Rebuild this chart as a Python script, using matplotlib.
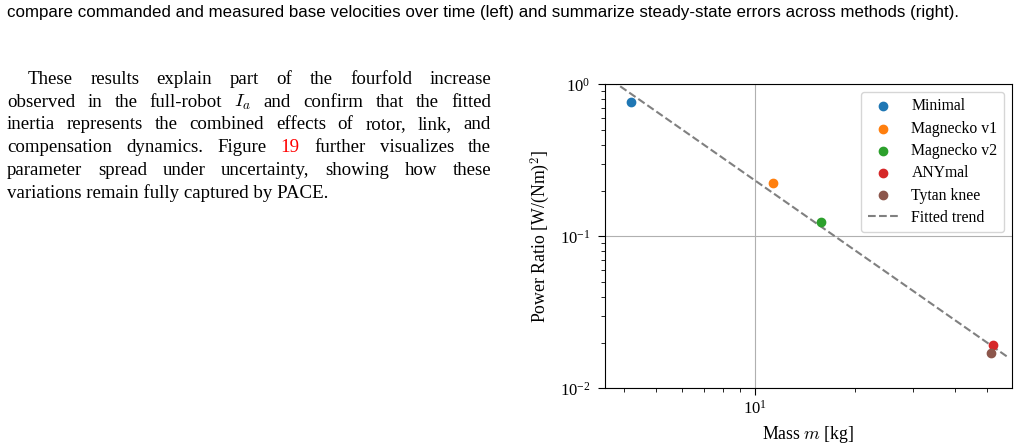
import numpy as np
from matplotlib import pyplot as plt

# === 数据 ===
robots = ["Minimal", "Magnecko v1", "Magnecko v2", "ANYmal", "Tytan knee"]
mass = [4.21, 11.28, 15.78, 52.2, 51.6]
power_ratio = [0.765, 0.2236, 0.1243, 0.01915, 0.01706]
colors = ["tab:blue", "tab:orange", "tab:green", "tab:red", "tab:brown"]

caption = ("compare commanded and measured base velocities over time (left) "
           "and summarize steady-state errors across methods (right).")
para_lines = [
    "These results explain part of the fourfold increase",
    "observed in the full-robot $I_a$ and confirm that the fitted",
    "inertia represents the combined effects of rotor, link, and",
    "compensation dynamics. Figure 19 further visualizes the",
    "parameter spread under uncertainty, showing how these",
    "variations remain fully captured by PACE.",
]
red_words = {"19"}

W, H = 1019, 447
plt.rcParams["font.family"] = ["Liberation Serif", "DejaVu Serif"]
plt.rcParams["mathtext.fontset"] = "cm"


def px(x, y):
    """像素坐标 -> figure 坐标"""
    return x / W, 1 - y / H


fig = plt.figure(figsize=(W / 100, H / 100), dpi=100)
renderer = fig.canvas.get_renderer()

# === 顶部图注 ===
t = fig.text(*px(7, 17), caption, family=["Liberation Sans", "DejaVu Sans"],
             fontsize=10, va="baseline", ha="left")
w = t.get_window_extent(renderer).width
t.set_fontsize(10 * (956 - 7) / w)

# === 左侧两端对齐的正文 ===
body_size = 13.6
left, right = 7, 491
for i, line in enumerate(para_lines):
    y = 84 + i * 22.7
    x0 = 28 if i == 0 else left
    if i == len(para_lines) - 1:
        fig.text(*px(x0, y), line, fontsize=body_size, va="baseline")
        continue
    words = line.split(" ")
    texts = [fig.text(0, 0, wd, fontsize=body_size, va="baseline",
                      color="red" if wd in red_words else "black")
             for wd in words]
    widths = [tx.get_window_extent(renderer).width for tx in texts]
    gap = (right - x0 - sum(widths)) / (len(words) - 1)
    x = x0
    for tx, wd in zip(texts, widths):
        tx.set_position(px(x, y))
        x += wd + gap

# === 右侧散点图 ===
ax = fig.add_axes([605 / W, 1 - 388.3 / H, (1011.7 - 605) / W, (388.3 - 84.3) / H])
for name, m, p, c in zip(robots, mass, power_ratio, colors):
    ax.scatter(m, p, color=c, s=36, label=name, zorder=3)

k, b = np.polyfit(np.log10(mass), np.log10(power_ratio), 1)
fit_x = np.array([min(mass) * 0.87, max(mass) * 1.115])
ax.plot(fit_x, 10 ** b * fit_x ** k, ls="--", color="gray", lw=1.5,
        label="Fitted trend", zorder=2)

ax.set_xscale("log")
ax.set_yscale("log")
ax.set_xlim(3.51, 59.5)
ax.set_ylim(1e-2, 1)
ax.grid(True, which="major", color="#b0b0b0", lw=0.8)
ax.set_axisbelow(True)
ax.tick_params(labelsize=12)
ax.tick_params(which="major", length=5)
ax.tick_params(which="minor", length=3)
ax.tick_params(axis="y", which="major", pad=5.5)
ax.set_xlabel("Mass $m$ [kg]", fontsize=12.8, labelpad=4)
ax.set_ylabel("Power Ratio [W/(Nm)$^2$]", fontsize=12.8, labelpad=6)
ax.legend(loc="upper right", fontsize=11.3, labelspacing=0.4)

fig.savefig("out.png", dpi=100)
